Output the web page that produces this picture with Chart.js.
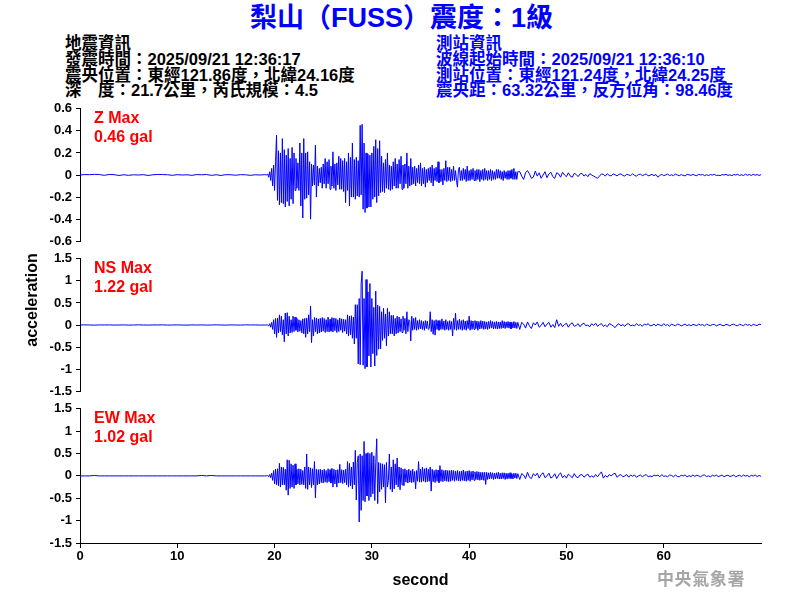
<!DOCTYPE html>
<html>
<head>
<meta charset="utf-8">
<script src="https://cdn.jsdelivr.net/npm/chart.js@4.4.1/dist/chart.umd.min.js"></script>
<style>
html,body{margin:0;padding:0;background:#fff;}
#page{position:relative;width:800px;height:600px;overflow:hidden;background:#fff;font-family:"Liberation Sans","Noto Sans CJK TC",sans-serif;}
canvas{position:absolute;left:0;}
.t{position:absolute;white-space:nowrap;}
#title{left:0;top:0;width:803px;height:37px;line-height:37px;text-align:center;font-size:27px;font-weight:bold;color:#0000ff;}
.info{font-size:16.5px;font-weight:bold;line-height:15.8px;}
.mx{left:94px;font-size:16px;font-weight:bold;line-height:19px;color:#ff0000;}
#ylab{left:-28px;top:290px;width:120px;height:20px;line-height:20px;text-align:center;font-size:16px;font-weight:bold;color:#000;transform:rotate(-90deg);}
#wm{left:657px;top:569px;font-size:17px;line-height:22px;font-weight:bold;color:#a6a6a6;letter-spacing:0.6px;}
</style>
</head>
<body>
<div id="page">
  <div id="title" class="t"></div>
  <div id="infoL" class="t info" style="left:65px;top:36px;color:#000;"></div>
  <div id="infoR" class="t info" style="left:436px;top:36px;color:#0000ff;"></div>
  <canvas id="c1" width="800" height="156" style="top:97px;"></canvas>
  <canvas id="c2" width="800" height="156" style="top:247px;"></canvas>
  <canvas id="c3" width="800" height="203" style="top:397px;"></canvas>
  <div id="m1" class="t mx" style="top:108px;"></div>
  <div id="m2" class="t mx" style="top:258px;"></div>
  <div id="m3" class="t mx" style="top:408px;"></div>
  <div id="ylab" class="t">acceleration</div>
  <div id="wm" class="t">中央氣象署</div>
</div>
<script>
// ---------- texts ----------
const titleText = "梨山（FUSS）震度：1級";
const quakeInfo = ["地震資訊", "發震時間：2025/09/21 12:36:17", "震央位置：東經121.86度，北緯24.16度", "深　度：21.7公里，芮氏規模：4.5"];
const stationInfo = ["測站資訊", "波線起始時間：2025/09/21 12:36:10", "測站位置：東經121.24度，北緯24.25度", "震央距：63.32公里，反方位角：98.46度"];
const channelNames = ["Z", "NS", "EW"];
const channelMax = ["0.46", "1.22", "1.02"];

// ---------- tick labels ----------
const secondTicks = [0, 10, 20, 30, 40, 50, 60];
const zTicks = [-0.6, -0.4, -0.2, 0, 0.2, 0.4, 0.6];
const accTicks = [-1.5, -1, -0.5, 0, 0.5, 1, 1.5];

// ---------- sampling of each segment (seconds) ----------
const quietStart = 0,     quietStep = 0.5;
const strongStart = 19.2, strongStep = 0.1;
const codaStart = 32.1,   codaStep = 0.1;
const tailStart = 45.2,   tailStep = 0.2;

// ---------- Z component (gal) ----------
const zQuiet = [0, 0.004, 0.003, 0.006, 0.004, -0.003, 0.005, 0.003, -0.004, 0.002,
  -0.003, 0.002, 0, 0.003, -0.004, 0.002, 0.005, 0.004, 0.002, -0.003,
  0.003, 0, 0.002, -0.003, 0.004, 0.002, 0.004, -0.003, 0.002, -0.004,
  0.003, 0.002, -0.002, 0.003, 0.002, -0.003, 0.002, 0, 0.003];
const zStrong = [0, 0.01, -0.02, 0.03, -0.05, 0.06, -0.1, 0.09,
  -0.14, 0.12, 0.36, -0.23, 0.22, -0.27, 0.2, -0.25, 0.33, -0.26,
  0.23, -0.29, 0.18, -0.24, 0.24, -0.28, 0.15, -0.22, 0.25, -0.26,
  0.2, -0.14, 0.15, -0.12, 0.11, -0.14, 0.29, -0.28, 0.2, -0.39,
  0.33, -0.22, 0.2, -0.21, 0.21, -0.18, 0.12, -0.4, 0.1, -0.1,
  0.09, -0.09, 0.27, -0.2, 0.08, -0.1, 0.06, -0.07, 0.07, -0.12,
  0.1, -0.08, 0.15, -0.12, 0.12, -0.08, 0.14, -0.13, 0.08, -0.1,
  0.21, -0.12, 0.1, -0.14, 0.11, -0.09, 0.17, -0.13, 0.15, -0.13,
  0.13, -0.15, 0.15, -0.25, 0.12, -0.14, 0.2, -0.28, 0.16, -0.2,
  0.29, -0.2, 0.14, -0.22, 0.16, -0.19, 0.13, -0.2, 0.45, -0.18,
  0.46, -0.31, 0.29, -0.34, 0.2, -0.3, 0.19, -0.29, 0.18, -0.29,
  0.2, -0.22, 0.26, -0.2, 0.32, -0.25, 0.24, -0.19, 0.31, -0.16,
  0.17, -0.15, 0.11, -0.16, 0.14, -0.12, 0.2, -0.13, 0.09, -0.14,
  0.08];
const zCoda = [-0.13, 0.12, -0.1, 0.15, -0.12, 0.1, -0.12, 0.14, -0.08, 0.17,
  -0.13, 0.09, -0.12, 0.1, -0.08, 0.2, -0.12, 0.08, -0.1, 0.15,
  -0.09, 0.07, -0.08, 0.08, -0.1, 0.06, -0.07, 0.09, -0.08, 0.11,
  -0.1, 0.06, -0.08, 0.07, -0.11, 0.05, -0.07, 0.06, -0.05, 0.07,
  -0.07, 0.09, -0.1, 0.06, -0.05, 0.07, -0.06, 0.12, -0.07, 0.05,
  -0.06, 0.05, -0.09, 0.06, -0.05, 0.13, -0.06, 0.07, -0.05, 0.07,
  -0.06, 0.05, -0.05, 0.08, -0.05, 0.04, -0.05, -0.11, 0.05, 0.07,
  -0.05, 0.04, -0.05, 0.06, -0.04, 0.05, -0.06, 0.08, -0.05, 0.04,
  -0.05, 0.05, -0.04, 0.06, -0.05, 0.04, -0.05, 0.05, -0.04, 0.05,
  -0.06, 0.04, -0.04, 0.05, -0.05, 0.06, -0.04, 0.04, -0.05, 0.04,
  -0.04, 0.05, -0.05, 0.04, -0.04, 0.03, -0.04, 0.05, -0.03, 0.05,
  -0.03, 0.04, -0.04, 0.03, -0.05, 0.04, -0.03, 0.03, -0.04, 0.04,
  -0.04, 0.04, -0.03, 0.05, -0.04, 0.06, -0.04, 0.03, -0.04, 0.03];
const zTail = [0.03, -0.01, -0.04, 0.02, 0.04, 0.01, -0.03, -0.02, 0.035, -0.01,
  0.02, -0.03, 0, 0.03, -0.025, 0.01, 0.025, -0.015, -0.03, 0.02,
  0.01, -0.02, 0.025, 0, -0.015, 0.02, -0.01, -0.02, 0.015, 0.005,
  -0.015, 0.01, 0.015, -0.01, 0.005, -0.015, 0.012, 0, -0.01, -0.02,
  -0.03, -0.01, 0.01, 0.005, -0.01, 0.012, -0.004, -0.008, 0.01, 0.002,
  -0.008, 0.006, 0.01, -0.004, -0.01, 0.008, 0, -0.006, 0.012, -0.004,
  -0.01, 0.004, 0.008, -0.006, 0.002, 0.01, -0.008, -0.002, 0.006, -0.006,
  0.004, -0.02, -0.004, 0.006, -0.006, 0, 0.008, -0.005, 0.002, -0.006,
  0.008, 0, -0.006, 0.004, -0.004, -0.008, 0.006, 0.002, -0.004, 0.006,
  -0.002, -0.006, 0.006, 0, 0.005, -0.006, 0.002, -0.004, 0.004, 0,
  0.006, -0.004, -0.002, -0.006, 0.004, 0, 0.006, -0.004, 0.002, -0.006,
  0.004, 0, 0.006, -0.004, 0.002, -0.004, 0.007, -0.002, 0.004, -0.004,
  0.006, -0.002, 0.004, -0.004, 0.003];

// ---------- NS component (gal) ----------
const nsQuiet = [0, 0.003, 0, -0.003, 0.002, 0, 0.003, -0.002, 0, 0.002,
  -0.002, 0, 0.003, 0, -0.002, 0.002, 0, 0.003, -0.002, 0,
  0.002, 0, -0.003, 0.002, 0, 0.002, -0.002, 0, 0.003, 0,
  -0.002, 0.002, 0, -0.002, 0.003, 0, 0.002, -0.002, 0];
const nsStrong = [0, 0, -0.02, 0.03, -0.05, 0.06, -0.1, 0.12,
  -0.2, 0.15, -0.28, 0.16, -0.18, 0.23, -0.15, 0.2, -0.22, 0.12,
  -0.38, 0.27, -0.2, 0.28, -0.25, 0.2, -0.18, 0.12, -0.17, 0.2,
  -0.15, 0.18, -0.12, 0.15, -0.16, 0.12, -0.14, 0.1, -0.18, 0.14,
  -0.2, 0.15, -0.28, 0.16, -0.2, 0.23, -0.15, 0.43, -0.4, 0.12,
  -0.25, 0.17, -0.15, 0.16, -0.2, 0.14, -0.18, 0.15, -0.16, 0.17,
  -0.14, 0.15, -0.17, 0.12, -0.15, 0.18, -0.16, 0.13, -0.14, 0.17,
  -0.16, 0.16, -0.13, 0.15, -0.17, 0.12, -0.15, 0.16, -0.12, 0.14,
  -0.17, 0.13, -0.14, 0.12, -0.2, 0.23, -0.25, 0.2, -0.22, 0.21,
  -0.3, 0.18, -0.43, 0.46, -0.3, 0.46, -0.88, 0.6, -0.9, 0.94,
  1.22, -0.91, 0.6, -0.99, 1.03, -0.95, 0.75, -0.7, 0.94, -0.95,
  0.6, -0.65, 0.4, -0.93, 0.77, -0.69, 0.45, -0.55, 0.42, -0.54,
  0.3, -0.35, 0.38, -0.3, 0.25, -0.47, 0.38, -0.25, 0.3, -0.2,
  0.22];
const nsCoda = [-0.2, 0.22, -0.25, 0.15, -0.2, 0.2, -0.18, 0.18, -0.15, 0.14,
  -0.17, 0.2, -0.12, 0.15, -0.2, 0.3, -0.15, 0.12, 0.1, -0.36,
  0.2, -0.12, 0.15, -0.1, 0.17, -0.12, 0.1, -0.1, 0.12, -0.09,
  0.1, -0.1, 0.08, -0.12, 0.1, -0.08, 0.09, -0.1, -0.08, 0.3,
  -0.15, 0.12, -0.21, 0.1, -0.23, 0.12, -0.1, 0.1, -0.12, 0.1,
  -0.1, 0.14, -0.1, 0.09, -0.12, 0.12, -0.1, 0.08, -0.12, 0.1,
  -0.1, 0.08, -0.25, 0.15, -0.1, 0.27, -0.12, 0.1, -0.1, 0.13,
  -0.1, 0.1, -0.12, 0.12, -0.1, 0.09, -0.12, 0.1, -0.08, 0.2,
  -0.12, 0.1, -0.1, 0.09, -0.1, 0.1, -0.08, 0.09, -0.12, 0.08,
  -0.09, 0.1, -0.08, 0.09, -0.1, 0.08, -0.09, 0.07, -0.1, 0.08,
  -0.08, 0.1, -0.07, 0.08, -0.09, 0.07, -0.08, 0.08, -0.09, 0.07,
  -0.08, 0.07, -0.08, 0.1, -0.07, 0.08, -0.08, 0.07, -0.06, 0.08,
  -0.07, 0.07, -0.09, 0.06, -0.07, 0.08, -0.07, 0.06, -0.08, 0.06];
const nsTail = [-0.1, 0.06, 0.02, -0.07, 0.07, -0.02, -0.08, 0.05, 0, 0.07,
  -0.05, -0.01, 0.06, -0.04, 0.02, 0.06, -0.05, 0.01, -0.06, 0.12,
  -0.03, 0.04, -0.04, 0.01, 0.04, -0.05, 0.02, 0.05, -0.03, -0.01,
  0.03, -0.04, 0.02, 0.04, -0.02, 0, -0.04, 0.03, -0.01, 0.04,
  -0.03, 0.01, 0.03, -0.03, 0, -0.04, 0.03, 0.01, -0.02, -0.06,
  0, 0.03, -0.02, 0.01, -0.03, 0.02, 0.03, -0.02, 0, -0.02,
  0.03, -0.01, 0.01, -0.03, 0.02, 0, 0.03, -0.02, -0.01, 0.02,
  -0.02, 0.02, 0, -0.02, 0.03, -0.01, 0.01, -0.03, 0.02, 0,
  -0.02, 0.02, 0.01, -0.02, 0, 0.02, -0.015, 0.01, -0.02, 0.015,
  0, -0.015, 0.02, -0.005, 0.01, -0.02, 0.02, 0, -0.015, 0.01,
  0.015, -0.02, 0, 0.02, -0.01, -0.015, 0.015, 0.005, -0.02, 0.01,
  0.02, -0.01, -0.015, 0.015, 0, -0.015, 0.02, -0.005, 0.01, -0.02,
  0.015, 0, -0.015, 0.02, 0.01];

// ---------- EW component (gal) ----------
const ewQuiet = [0, 0, 0, 0.01, 0, 0, 0, 0, 0, 0,
  0, 0, 0, 0, 0, 0, 0, 0, 0, 0,
  0, 0, 0, 0, 0, 0.01, 0, 0.01, 0, 0,
  0, 0, 0, 0, 0, 0, 0, 0, 0];
const ewStrong = [0, 0.01, -0.02, 0.03, -0.04, 0.06, -0.1, 0.12,
  -0.18, 0.15, -0.2, 0.16, -0.22, 0.28, -0.25, 0.2, -0.2, 0.19,
  -0.2, 0.15, -0.32, 0.36, -0.43, 0.35, -0.28, 0.27, -0.25, 0.24,
  -0.28, 0.27, -0.2, 0.15, -0.18, 0.16, -0.2, 0.15, -0.19, 0.12,
  -0.2, 0.2, -0.28, 0.49, -0.3, 0.2, -0.2, 0.18, -0.26, 0.16,
  -0.2, 0.32, -0.49, 0.15, -0.2, 0.14, -0.18, 0.15, -0.15, 0.13,
  -0.16, 0.15, -0.14, 0.12, -0.15, 0.16, -0.13, 0.14, -0.16, 0.17,
  -0.25, 0.15, -0.18, 0.13, -0.25, 0.14, -0.16, 0.26, -0.15, 0.14,
  -0.17, 0.13, -0.15, 0.15, -0.2, 0.32, -0.25, 0.28, -0.22, 0.2,
  -0.29, 0.31, -0.2, 0.57, -0.54, 0.3, 0.45, -1.03, 0.49, -0.77,
  0.45, -0.55, 0.77, -0.58, 0.5, -0.45, 0.52, -0.55, 0.5, -0.47,
  0.53, -0.4, 0.45, -0.55, 0.3, 0.83, -0.62, 0.3, -0.36, 0.28,
  -0.3, 0.27, -0.25, 0.25, -0.6, 0.3, -0.25, -0.1, 0.49, -0.3,
  0.2];
const ewCoda = [-0.36, 0.36, -0.29, 0.27, -0.2, 0.4, -0.25, 0.2, -0.31, 0.18,
  -0.2, 0.15, -0.22, 0.16, -0.14, 0.13, -0.16, 0.15, -0.14, 0.12,
  -0.15, 0.15, -0.14, 0.1, -0.29, 0.12, -0.12, 0.32, -0.14, 0.15,
  -0.14, 0.2, -0.12, 0.16, -0.14, 0.18, -0.13, 0.15, -0.12, 0.2,
  -0.34, 0.15, -0.13, 0.12, -0.15, 0.14, -0.12, 0.13, -0.15, 0.23,
  -0.12, 0.14, -0.13, 0.12, -0.11, 0.13, -0.12, 0.12, -0.13, 0.12,
  -0.12, 0.13, -0.1, 0.12, -0.12, 0.11, -0.1, 0.12, -0.11, 0.1,
  -0.12, 0.11, -0.1, 0.13, -0.11, 0.1, -0.12, 0.11, -0.1, 0.12,
  -0.12, 0.1, -0.09, 0.11, -0.1, 0.09, -0.08, 0.1, -0.09, 0.09,
  -0.1, 0.08, -0.09, 0.08, -0.1, 0.08, -0.19, 0.08, -0.08, 0.07,
  -0.07, 0.08, -0.06, 0.07, -0.08, 0.06, -0.07, 0.07, -0.06, 0.08,
  -0.07, 0.06, -0.07, 0.07, -0.06, 0.07, -0.08, 0.06, -0.07, 0.06,
  -0.06, 0.07, -0.06, 0.05, -0.07, 0.06, -0.05, 0.06, -0.06, 0.05];
const ewTail = [-0.08, 0.05, 0.02, -0.06, 0.08, -0.03, -0.06, 0.05, 0, 0.06,
  -0.05, 0.03, 0.07, -0.04, 0, 0.06, -0.05, -0.02, 0.05, -0.06,
  0.02, 0.07, -0.04, 0.01, -0.05, 0.04, 0, -0.04, 0.05, -0.02,
  -0.04, 0.02, 0.03, -0.03, 0.01, 0.04, -0.03, 0, -0.03, 0.03,
  -0.02, 0.04, 0.09, -0.05, 0.01, -0.03, 0.03, 0, 0.04, 0.06,
  -0.03, 0.01, 0.03, -0.02, 0, 0.03, -0.03, 0.02, -0.01, 0.02,
  -0.03, 0, 0.02, -0.02, 0.01, 0.03, -0.02, 0, -0.02, 0.02,
  0, 0.02, -0.02, 0.03, -0.01, 0, -0.02, 0.02, 0.01, -0.02,
  0.02, -0.01, -0.02, 0.015, 0, 0.02, -0.02, 0.005, -0.015, 0.02,
  -0.01, 0.015, 0, -0.02, 0.015, 0.02, -0.015, 0, -0.02, 0.015,
  -0.005, 0.02, -0.015, 0, 0.02, -0.02, 0.005, 0.015, -0.015, 0,
  0.02, -0.02, 0, 0.015, -0.015, 0.02, -0.005, 0.01, -0.02, 0.015,
  -0.005, 0.02, -0.015, 0.01, -0.01];

// ---------- build ----------
function buildPoints(segments) {
  const pts = [];
  segments.forEach(([start, step, vals]) => {
    vals.forEach((v, i) => pts.push({ x: +(start + i * step).toFixed(2), y: v }));
  });
  return pts;
}
const zPoints = buildPoints([[quietStart, quietStep, zQuiet], [strongStart, strongStep, zStrong], [codaStart, codaStep, zCoda], [tailStart, tailStep, zTail]]);
const nsPoints = buildPoints([[quietStart, quietStep, nsQuiet], [strongStart, strongStep, nsStrong], [codaStart, codaStep, nsCoda], [tailStart, tailStep, nsTail]]);
const ewPoints = buildPoints([[quietStart, quietStep, ewQuiet], [strongStart, strongStep, ewStrong], [codaStart, codaStep, ewCoda], [tailStart, tailStep, ewTail]]);

document.getElementById('title').textContent = titleText;
document.getElementById('infoL').innerHTML = quakeInfo.join('<br>');
document.getElementById('infoR').innerHTML = stationInfo.join('<br>');
['m1', 'm2', 'm3'].forEach((id, i) => {
  document.getElementById(id).innerHTML = channelNames[i] + ' Max<br>' + channelMax[i] + ' gal';
});

const tickFont = { family: "'Liberation Sans', Arial, sans-serif", size: 13, weight: 'bold' };
function makePanel(canvasId, points, yTicks, showX) {
  const yMin = yTicks[0], yMax = yTicks[yTicks.length - 1];
  return new Chart(document.getElementById(canvasId), {
    type: 'line',
    data: { datasets: [{ data: points, borderColor: '#0000ff', borderWidth: 1, pointRadius: 0, tension: 0, fill: false }] },
    options: {
      responsive: false, animation: false, devicePixelRatio: 1, parsing: false, normalized: true,
      layout: { padding: { top: 10, bottom: showX ? 0 : 10, left: 0, right: 39 } },
      plugins: { legend: { display: false }, tooltip: { enabled: false }, title: { display: false } },
      scales: {
        x: {
          type: 'linear', min: 0, max: 70, display: showX,
          afterFit: s => { if (showX) s.height = 57; },
          afterBuildTicks: s => { s.ticks = secondTicks.map(v => ({ value: v })); },
          grid: { drawOnChartArea: false, drawTicks: true, tickLength: 5, color: '#000', lineWidth: 1 },
          border: { display: true, color: '#000', width: 1 },
          ticks: { color: '#000', font: tickFont, padding: 1, maxRotation: 0, autoSkip: false, callback: v => String(v) },
          title: { display: true, text: 'second', color: '#000', font: { family: "'Liberation Sans', Arial, sans-serif", size: 16, weight: 'bold' }, padding: { top: 0, bottom: 10 } }
        },
        y: {
          type: 'linear', min: yMin, max: yMax,
          afterFit: s => { s.width = 80; },
          afterBuildTicks: s => { s.ticks = yTicks.map(v => ({ value: v })); },
          grid: { drawOnChartArea: false, drawTicks: true, tickLength: 4, color: '#000', lineWidth: 1 },
          border: { display: true, color: '#000', width: 1 },
          ticks: { color: '#000', font: tickFont, padding: 4, autoSkip: false, callback: v => String(v) }
        }
      }
    }
  });
}
makePanel('c1', zPoints, zTicks, false);
makePanel('c2', nsPoints, accTicks, false);
makePanel('c3', ewPoints, accTicks, true);
</script>
</body>
</html>
